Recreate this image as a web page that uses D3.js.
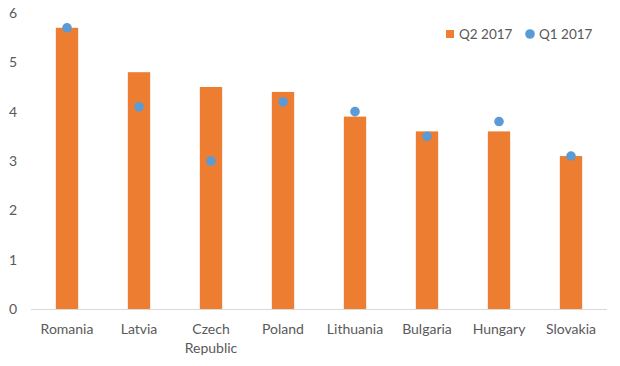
<!DOCTYPE html>
<html><head><meta charset="utf-8">
<script src="https://cdn.jsdelivr.net/npm/d3@7"></script>
<style>body{margin:0;background:#fff}svg{display:block}</style>
</head><body><svg id="c" width="620" height="366"></svg>
<script>
const categories = ["Romania","Latvia","Czech Republic","Poland","Lithuania","Bulgaria","Hungary","Slovakia"];
const q2 = [5.7,4.8,4.5,4.4,3.9,3.6,3.6,3.1];
const q1 = [5.7,4.1,3.0,4.2,4.0,3.5,3.8,3.1];
const yTicks = [0,1,2,3,4,5,6];

const svg = d3.select("#c");
const font = "Lato, 'Noto Sans', sans-serif";
const x = d3.scaleBand().domain(categories).range([31,607]).paddingInner(0.69).paddingOuter(0.345);
const y = d3.scaleLinear().domain([0,6]).range([309,13]);

// y tick labels
svg.append("g").selectAll("text").data(yTicks).join("text")
  .attr("x",17).attr("y",d=>y(d)+5).attr("text-anchor","end")
  .attr("font-family",font).attr("font-size",14).attr("fill","#595959").text(d=>d);

// bars
svg.append("g").selectAll("rect").data(categories).join("rect")
  .attr("x",d=>x(d)).attr("width",x.bandwidth())
  .attr("y",(d,i)=>y(q2[i])).attr("height",(d,i)=>y(0)-y(q2[i]))
  .attr("fill","#ED7D31");

// axis line
svg.append("line").attr("x1",31).attr("x2",607).attr("y1",309.5).attr("y2",309.5)
  .attr("stroke","#d9d9d9").attr("stroke-width",1);

// dots
svg.append("g").selectAll("circle").data(categories).join("circle")
  .attr("cx",d=>x(d)+x.bandwidth()/2).attr("cy",(d,i)=>y(q1[i])).attr("r",4.8)
  .attr("fill","#5B9BD5");

// x labels
const xl = svg.append("g").selectAll("text").data(categories).join("text")
  .attr("x",d=>x(d)+x.bandwidth()/2).attr("y",334).attr("text-anchor","middle")
  .attr("font-family",font).attr("font-size",14).attr("fill","#595959");
xl.each(function(d){
  const words = d.split(" ");
  const t = d3.select(this);
  words.forEach((w,i)=>{
    t.append("tspan").attr("x",x(d)+x.bandwidth()/2).attr("dy",i===0?0:19).text(w);
  });
});

// legend
const lg = svg.append("g");
lg.append("rect").attr("x",446).attr("y",30).attr("width",8).attr("height",8).attr("fill","#ED7D31");
lg.append("text").attr("x",459).attr("y",38.5).attr("font-family",font).attr("font-size",13.5).attr("fill","#595959").text("Q2 2017");
lg.append("circle").attr("cx",530).attr("cy",34).attr("r",4.8).attr("fill","#5B9BD5");
lg.append("text").attr("x",539).attr("y",38.5).attr("font-family",font).attr("font-size",13.5).attr("fill","#595959").text("Q1 2017");
</script></body></html>
